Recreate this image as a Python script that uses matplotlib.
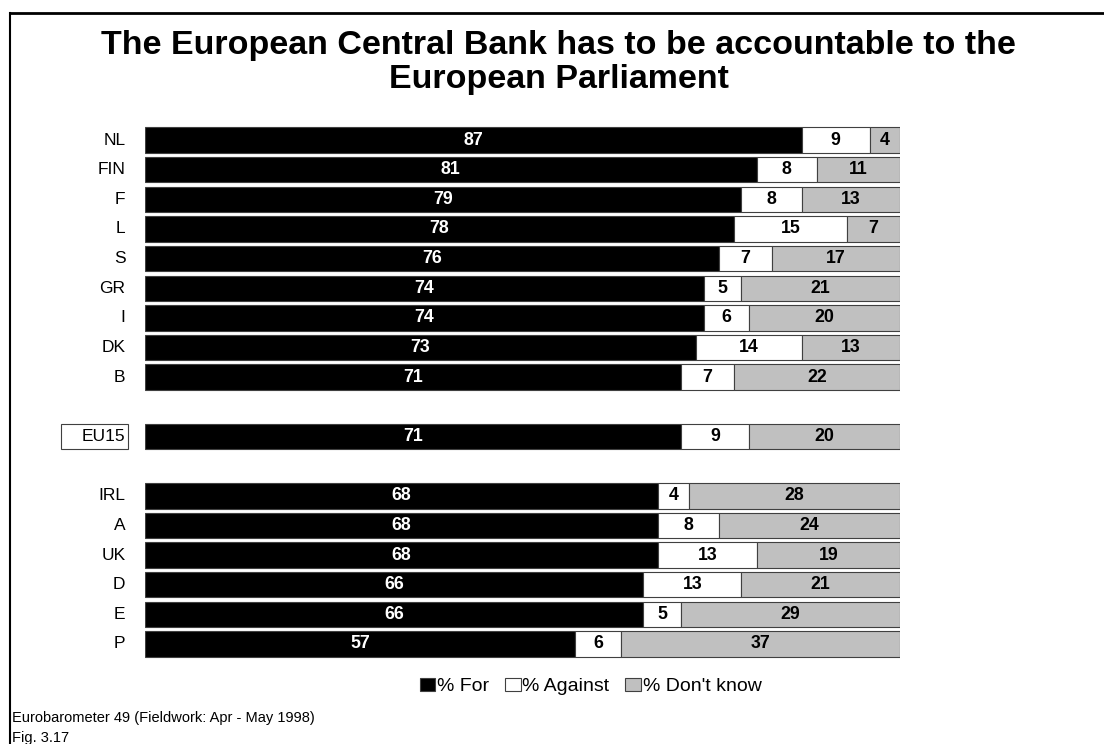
import matplotlib
matplotlib.use("Agg")
import matplotlib.pyplot as plt
from matplotlib.patches import Patch, Rectangle
from matplotlib.lines import Line2D

plt.rcParams["font.family"] = ["Liberation Sans", "DejaVu Sans"]

countries = ["NL", "FIN", "F", "L", "S", "GR", "I", "DK", "B",
             "EU15", "IRL", "A", "UK", "D", "E", "P"]
pct_for = [87, 81, 79, 78, 76, 74, 74, 73, 71, 71, 68, 68, 68, 66, 66, 57]
pct_against = [9, 8, 8, 15, 7, 5, 6, 14, 7, 9, 4, 8, 13, 13, 5, 6]
pct_dont_know = [4, 11, 13, 7, 17, 21, 20, 13, 22, 20, 28, 24, 19, 21, 29, 37]

# Row slots: gaps left empty around the EU15 average
slots = [0, 1, 2, 3, 4, 5, 6, 7, 8, 10, 12, 13, 14, 15, 16, 17]

fig = plt.figure(figsize=(11.04, 7.44), dpi=100)
ax = fig.add_axes([0.1313, 0.1145, 0.8152 - 0.1313, 0.8317 - 0.1145])

h = 0.86
edge = "#404040"
colors = ["#000000", "#ffffff", "#c0c0c0"]
series = [pct_for, pct_against, pct_dont_know]
txt_colors = ["white", "black", "black"]

lefts = [0] * len(countries)
for vals, col, tc in zip(series, colors, txt_colors):
    ax.barh(slots, vals, left=lefts, height=h, color=col,
            edgecolor=edge, linewidth=0.8)
    for y, v, l in zip(slots, vals, lefts):
        ax.text(l + v / 2, y, str(v), ha="center", va="center",
                fontsize=12.8, fontweight="bold", color=tc)
    lefts = [a + b for a, b in zip(lefts, vals)]

ax.set_xlim(0, 100)
ax.set_ylim(17.5, -0.5)
ax.axis("off")

for name, y in zip(countries, slots):
    ax.text(-2.6, y, name, ha="right", va="center", fontsize=12.5)
    if name == "EU15":
        ax.add_patch(Rectangle((-11.1, y - h / 2), 8.8, h, fill=False,
                               ec="#404040", lw=0.8, clip_on=False))

fig.text(0.506, 0.916, "The European Central Bank has to be accountable to the\nEuropean Parliament",
         ha="center", va="center", fontsize=24.5, fontweight="bold",
         linespacing=1.15)

handles = [Patch(facecolor=c, edgecolor=edge, linewidth=0.8) for c in colors]
fig.legend(handles, ["% For", "% Against", "% Don't know"],
           loc="center", bbox_to_anchor=(0.535, 0.077), ncol=3,
           frameon=False, fontsize=14, handlelength=0.8, handleheight=0.6,
           handletextpad=0.1, columnspacing=0.8)

fig.text(0.011, 0.035, "Eurobarometer 49 (Fieldwork: Apr - May 1998)",
         ha="left", va="center", fontsize=10.5)
fig.text(0.011, 0.008, "Fig. 3.17", ha="left", va="center", fontsize=10.5)

# Frame lines along the top and left edges
fig.add_artist(Line2D([0.009, 1.0], [1 - 13 / 744, 1 - 13 / 744],
                      transform=fig.transFigure, color="black", lw=2))
fig.add_artist(Line2D([0.009, 0.009], [0.0, 1 - 13 / 744],
                      transform=fig.transFigure, color="black", lw=1.5))

fig.savefig("out.png", dpi=100)
